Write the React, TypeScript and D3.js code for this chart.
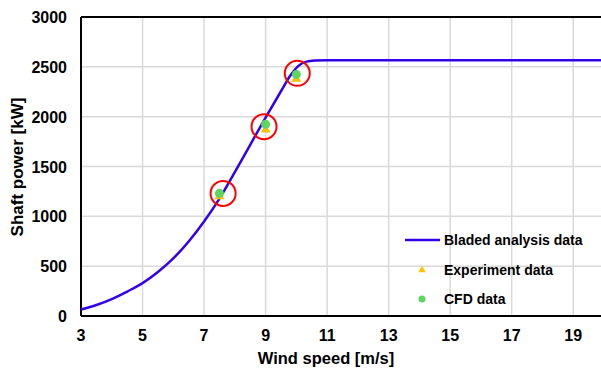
import React from "react";
import * as d3 from "d3";

const curveWind = [3, 3.5, 4, 4.5, 5, 5.5, 6, 6.5, 7, 7.5, 8, 8.5, 9, 9.5, 9.8, 10.05, 10.3, 10.6, 11, 20];
const curvePower = [65, 110, 170, 245, 330, 442, 578, 748, 948, 1178, 1443, 1718, 1990, 2255, 2410, 2505, 2550, 2563, 2565, 2565];

const expWind = [7.5, 9, 10];
const expPower = [1200, 1870, 2380];

const cfdWind = [7.5, 9, 10];
const cfdPower = [1231, 1923, 2424];

const circleWind = [7.62, 8.95, 10.03];
const circlePower = [1230, 1900, 2435];

const xTicks = [3, 5, 7, 9, 11, 13, 15, 17, 19];
const yTicks = [0, 500, 1000, 1500, 2000, 2500, 3000];

const W = 601;
const H = 372;
const FONT = "'Liberation Sans', Arial, sans-serif";

export default function App() {
  const x = d3.scaleLinear().domain([3, 20]).range([81, 604]);
  const y = d3.scaleLinear().domain([0, 3000]).range([316, 17]);

  const curveData = curveWind.map((w, i) => [w, curvePower[i]] as [number, number]);
  const line = d3
    .line<[number, number]>()
    .x((d) => x(d[0]))
    .y((d) => y(d[1]))
    .curve(d3.curveMonotoneX);

  const tri = d3.symbol().type(d3.symbolTriangle).size(42)() as string;

  return (
    <svg width={W} height={H} style={{ position: "absolute", left: 0, top: 0, background: "#fff" }}>
      <rect x={0} y={0} width={W} height={H} fill="#fff" />
      {/* grid */}
      {xTicks.slice(1).map((t) => (
        <line key={"gx" + t} x1={x(t)} x2={x(t)} y1={y(3000)} y2={y(0)} stroke="#d9d9d9" strokeWidth={1.5} />
      ))}
      {yTicks.slice(1, -1).map((t) => (
        <line key={"gy" + t} x1={x(3)} x2={W} y1={y(t)} y2={y(t)} stroke="#d9d9d9" strokeWidth={1.5} />
      ))}
      {/* axes */}
      <line x1={x(3)} x2={W} y1={y(3000)} y2={y(3000)} stroke="#000" strokeWidth={2} />
      <line x1={x(3)} x2={W} y1={y(0)} y2={y(0)} stroke="#000" strokeWidth={2} />
      <line x1={x(3)} x2={x(3)} y1={y(3000)} y2={y(0)} stroke="#000" strokeWidth={2} />

      {/* tick labels */}
      {xTicks.map((t) => (
        <text key={"tx" + t} x={x(t)} y={341} textAnchor="middle" fontFamily={FONT} fontWeight="bold" fontSize={16} fill="#000">
          {t}
        </text>
      ))}
      {yTicks.map((t) => (
        <text key={"ty" + t} x={67} y={y(t) + 6} textAnchor="end" fontFamily={FONT} fontWeight="bold" fontSize={16} fill="#000">
          {t}
        </text>
      ))}

      {/* axis titles */}
      <text x={326} y={364} textAnchor="middle" fontFamily={FONT} fontWeight="bold" fontSize={16.5} fill="#000">
        Wind speed [m/s]
      </text>
      <text
        transform={`translate(23,167) rotate(-90)`}
        textAnchor="middle"
        fontFamily={FONT}
        fontWeight="bold"
        fontSize={17}
        fill="#000"
      >
        Shaft power [kW]
      </text>

      {/* curve */}
      <path d={line(curveData) as string} fill="none" stroke="#3300ee" strokeWidth={2.5} />

      {/* experiment */}
      {expWind.map((w, i) => (
        <path key={"e" + i} d={tri} transform={`translate(${x(w)},${y(expPower[i])})`} fill="#ffc000" />
      ))}
      {/* cfd */}
      {cfdWind.map((w, i) => (
        <circle key={"c" + i} cx={x(w)} cy={y(cfdPower[i])} r={4.5} fill="#5cd65c" />
      ))}
      {/* red circles */}
      {circleWind.map((w, i) => (
        <ellipse key={"r" + i} cx={x(w)} cy={y(circlePower[i])} rx={12.5} ry={12.5} fill="none" stroke="#ff0000" strokeWidth={2} />
      ))}

      {/* legend */}
      <line x1={405} x2={440} y1={240} y2={240} stroke="#3300ee" strokeWidth={2.5} />
      <text x={444} y={245} fontFamily={FONT} fontWeight="bold" fontSize={14} fill="#000">
        Bladed analysis data
      </text>
      <path d={d3.symbol().type(d3.symbolTriangle).size(24)() as string} transform="translate(422,270)" fill="#ffc000" />
      <text x={444} y={275} fontFamily={FONT} fontWeight="bold" fontSize={14} fill="#000">
        Experiment data
      </text>
      <circle cx={422} cy={299} r={3.5} fill="#5cd65c" />
      <text x={444} y={304} fontFamily={FONT} fontWeight="bold" fontSize={14} fill="#000">
        CFD data
      </text>
    </svg>
  );
}
